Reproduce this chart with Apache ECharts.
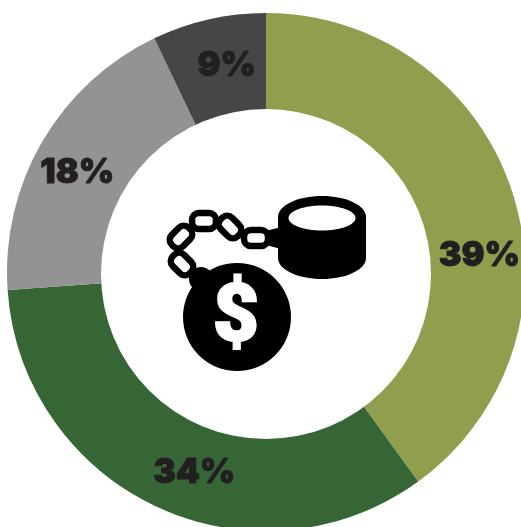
<!DOCTYPE html>
<html>
<head>
<meta charset="utf-8">
<style>html,body{margin:0;padding:0;background:#fff}#c{width:521px;height:527px}</style>
<script src="https://cdn.jsdelivr.net/npm/echarts@6/dist/echarts.min.js"></script>
</head>
<body>
<div id="c"></div>
<script>
const sliceSizes = [40, 33.9, 19, 7.1];
const sliceLabels = ['39%', '34%', '18%', '9%'];
const sliceColors = ['#8f9f4e', '#366636', '#939393', '#464648'];
const labelNudges = [[16, 47.5], [16, 13], [-9.4, 5.5], [6.7, -3.8]];
const chainLinks = [[256, 238, 0], [230, 227, -45], [204, 221, 0], [181, 237, 45], [182, 264, -45]];

const chart = echarts.init(document.getElementById('c'), null, {renderer: 'canvas'});
const linkW = 24, linkH = 16;
const icon = [
  {type: 'circle', shape: {cx: 266, cy: 274, r: 165}, style: {fill: '#fff'}},
  {type: 'polygon', shape: {points: [[262, 232], [285, 226], [285, 250], [262, 244]]}, style: {fill: '#000'}},
  {type: 'ellipse', shape: {cx: 322, cy: 258, rx: 44, ry: 21}, style: {fill: '#000'}},
  {type: 'rect', shape: {x: 278, y: 217, width: 88, height: 41}, style: {fill: '#000'}},
  {type: 'ellipse', shape: {cx: 322, cy: 217, rx: 44, ry: 21}, style: {fill: '#000'}},
  {type: 'ellipse', shape: {cx: 322, cy: 218, rx: 33.5, ry: 12.5}, style: {fill: '#fff'}},
  {type: 'circle', shape: {cx: 201, cy: 279, r: 12}, style: {fill: '#000'}},
  {type: 'circle', shape: {cx: 237, cy: 317, r: 54}, style: {fill: '#000'}}
];
chainLinks.forEach(function (l) {
  icon.push({
    type: 'rect', x: l[0], y: l[1], rotation: l[2] * Math.PI / 180,
    shape: {x: -linkW / 2, y: -linkH / 2, width: linkW, height: linkH, r: 7},
    style: {fill: '#fff', stroke: '#000', lineWidth: 6.5}
  });
});
icon.push({
  type: 'text', x: 236, y: 321,
  style: {text: '$', fill: '#fff', stroke: '#fff', lineWidth: 2, font: '900 80px Roboto, sans-serif', align: 'center', verticalAlign: 'middle'}
});

chart.setOption({
  animation: false,
  backgroundColor: '#fff',
  graphic: {elements: icon.map(function (e) { e.z = 10; return e; })},
  series: [{
    type: 'pie',
    center: [266, 272],
    radius: [150, 259],
    startAngle: 90,
    clockwise: true,
    avoidLabelOverlap: false,
    silent: true,
    itemStyle: {borderWidth: 0},
    label: {
      show: true,
      position: 'inside',
      color: '#231f20',
      fontFamily: 'Inter, "DejaVu Sans", sans-serif',
      fontWeight: 900,
      fontSize: 34,
      textBorderColor: '#231f20',
      textBorderWidth: 1,
      formatter: function (p) { return sliceLabels[p.dataIndex]; }
    },
    labelLine: {show: false},
    labelLayout: function (p) {
      return {dx: labelNudges[p.dataIndex][0], dy: labelNudges[p.dataIndex][1]};
    },
    data: sliceSizes.map(function (v, i) {
      return {value: v, name: sliceLabels[i], itemStyle: {color: sliceColors[i]}};
    })
  }]
});
</script>
</body>
</html>
